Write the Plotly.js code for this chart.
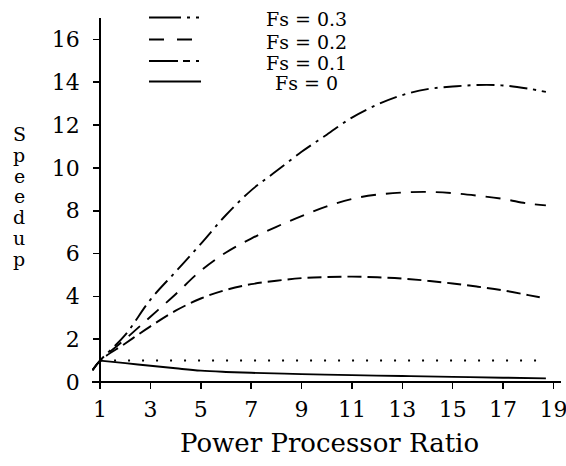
<!DOCTYPE html>
<html><head><meta charset="utf-8">
<script src="https://cdn.plot.ly/plotly-3.0.1.min.js"></script>
<style>html,body{margin:0;padding:0;background:#fff}</style>
</head><body><div id="chart" style="width:566px;height:466px"></div>
<script>
// ---- data ----
const ratioRise = [0.7, 1, 2, 3, 4, 5, 6, 7, 8, 9, 10, 11, 12, 13, 14, 15, 16, 17, 18, 18.7];
const speedupFs03 = [0.55, 1.0, 2.2, 3.85, 5.15, 6.45, 7.8, 8.95, 9.85, 10.75, 11.55, 12.35, 12.95, 13.4, 13.68, 13.8, 13.87, 13.85, 13.7, 13.55];
const speedupFs02 = [0.55, 1.0, 2.0, 3.05, 4.1, 5.2, 6.05, 6.7, 7.25, 7.75, 8.2, 8.55, 8.75, 8.85, 8.88, 8.82, 8.7, 8.55, 8.33, 8.25];
const speedupFs01 = [0.55, 1.0, 1.8, 2.6, 3.33, 3.9, 4.3, 4.57, 4.73, 4.85, 4.9, 4.92, 4.89, 4.83, 4.73, 4.6, 4.45, 4.28, 4.06, 3.9];
const ratioFs0 = [1, 2, 3, 4, 5, 6, 7, 9, 11, 13, 15, 17, 18.7];
const speedupFs0 = [1.0, 0.88, 0.76, 0.64, 0.53, 0.47, 0.43, 0.37, 0.32, 0.28, 0.24, 0.2, 0.17];
const refRatio = [1, 18.7];
const refSpeedup = [1, 1];
const seriesNames = ['Fs = 0.3', 'Fs = 0.2', 'Fs = 0.1', 'Fs = 0'];
const xTicks = [1, 3, 5, 7, 9, 11, 13, 15, 17, 19];
const yTicks = [0, 2, 4, 6, 8, 10, 12, 14, 16];
const yTitle = 'Speedup';
const xTitle = 'Power Processor Ratio';

// ---- geometry ----
const W = 566, H = 466, L = 92, R = 5, T = 18, B = 78;
const PW = W - L - R, PH = H - T - B;
const XR = [0.68, 19.3], YR = [-0.28, 17];
const px2x = p => (p - L) / PW;
const py2y = p => (H - B - p) / PH;
const FONT = 'DejaVu Serif, Liberation Serif, serif';

const dashes = ['18px,6px,3px,6px', '15px,10px', '14px,6px', 'solid'];
const ys = [speedupFs03, speedupFs02, speedupFs01, speedupFs0];
const xs = [ratioRise, ratioRise, ratioRise, ratioFs0];

const traces = ys.map((y, i) => ({
  x: xs[i], y: y, type: 'scatter', mode: 'lines', name: seriesNames[i],
  line: {color: '#000', width: 1.9, dash: dashes[i], shape: 'spline', smoothing: 1},
  showlegend: false, hoverinfo: 'skip'
}));
traces.push({
  x: refRatio, y: refSpeedup, type: 'scatter', mode: 'lines', showlegend: false,
  line: {color: '#000', width: 2, dash: '2px,12px'}, hoverinfo: 'skip'
});

// custom legend
const legendRows = [17.5, 39.5, 61, 81.5];
const legendTextY = [19.5, 41.5, 62.5, 83.5];
const legendDash = ['32px,6px,3px,6px,3px,20px', '15px,13px', '29px,5px,7px,6px,3px,20px', 'solid'];
const shapes = legendRows.map((ry, i) => ({
  type: 'line', xref: 'paper', yref: 'paper',
  x0: px2x(149), x1: px2x(201), y0: py2y(ry), y1: py2y(ry),
  line: {color: '#000', width: 2, dash: legendDash[i]}
}));
const annotations = seriesNames.map((n, i) => ({
  text: n, xref: 'paper', yref: 'paper', x: px2x(306), y: py2y(legendTextY[i]),
  xanchor: 'center', yanchor: 'middle', showarrow: false,
  font: {family: FONT, size: 19, color: '#000'}
}));
// vertical stacked y title, one letter per row
yTitle.split('').forEach((ch, i) => annotations.push({
  text: ch, xref: 'paper', yref: 'paper', x: px2x(19), y: py2y(134 + i * 20.8),
  xanchor: 'center', yanchor: 'middle', showarrow: false,
  font: {family: FONT, size: 19, color: '#000'}
}));
annotations.push({
  text: xTitle, xref: 'paper', yref: 'paper', x: px2x(329), y: py2y(443),
  xanchor: 'center', yanchor: 'middle', showarrow: false,
  font: {family: FONT, size: 26, color: '#000'}
});

const axisCommon = {
  showline: true, linecolor: '#000', linewidth: 2, ticks: 'outside', ticklen: 6, tickwidth: 1.6, tickcolor: '#000',
  showgrid: false, zeroline: false, anchor: 'free', automargin: false, tickmode: 'array',
  tickfont: {family: FONT, size: 22, color: '#000'}, ticklabeloverflow: 'allow'
};
const layout = {
  width: W, height: H, margin: {l: L, r: R, t: T, b: B},
  paper_bgcolor: '#fff', plot_bgcolor: '#fff', showlegend: false,
  font: {family: FONT, color: '#000'},
  xaxis: Object.assign({}, axisCommon, {
    range: XR, tickvals: xTicks, ticktext: xTicks.map(String),
    position: (0 - YR[0]) / (YR[1] - YR[0]), ticklabelstandoff: 2
  }),
  yaxis: Object.assign({}, axisCommon, {
    range: YR, tickvals: yTicks, ticktext: yTicks.map(String),
    position: (1 - XR[0]) / (XR[1] - XR[0]), ticklabelstandoff: 9
  }),
  shapes: shapes, annotations: annotations
};
Plotly.newPlot('chart', traces, layout, {staticPlot: true, displayModeBar: false});
</script></body></html>
